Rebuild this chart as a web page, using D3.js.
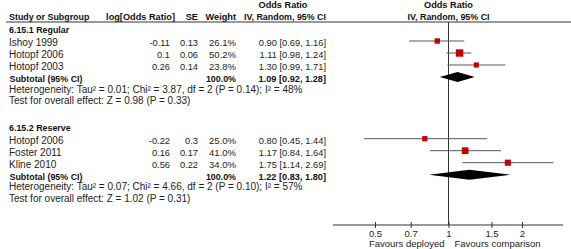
<!DOCTYPE html>
<meta charset="utf-8">
<script src="https://d3js.org/d3.v7.min.js"></script>
<style>
  body { margin: 0; background: #fff; }
</style>
<body>
<div id="viz"></div>
<script>

// data
const groupNames = ["6.15.1 Regular", "6.15.2 Reserve"];
const studies = ["Ishoy 1999", "Hotopf 2006", "Hotopf 2003", "Hotopf 2006", "Foster 2011", "Kline 2010"];
const studyGroup = [0, 0, 0, 1, 1, 1];
const logOR = [-0.11, 0.1, 0.26, -0.22, 0.16, 0.56];
const se = [0.13, 0.06, 0.14, 0.3, 0.17, 0.22];
const weight = [26.1, 50.2, 23.8, 25.0, 41.0, 34.0];
const orEst = [0.90, 1.11, 1.30, 0.80, 1.17, 1.75];
const orLow = [0.69, 0.98, 0.99, 0.45, 0.84, 1.14];
const orHigh = [1.16, 1.24, 1.71, 1.44, 1.64, 2.69];
const subEst = [1.09, 1.22];
const subLow = [0.92, 0.83];
const subHigh = [1.28, 1.80];
const heterogeneity = [
  "Heterogeneity: Tau² = 0.01; Chi² = 3.87, df = 2 (P = 0.14); I² = 48%",
  "Heterogeneity: Tau² = 0.07; Chi² = 4.66, df = 2 (P = 0.10); I² = 57%"
];
const overallTest = [
  "Test for overall effect: Z = 0.98 (P = 0.33)",
  "Test for overall effect: Z = 1.02 (P = 0.31)"
];
const tickValues = [0.5, 0.7, 1, 1.5, 2];
const favours = ["Favours deployed", "Favours comparison"];

const width = 571, height = 249;
const svg = d3.select("#viz").append("svg")
  .attr("width", width).attr("height", height);

const FONT = "'Liberation Sans', Arial, Helvetica, sans-serif";
const sz = { prose: 10, num: 9.3, head: 9.2, label: 8.9, axis: 9.5 };

// columns
const col = { name: 9, logor: 170, se: 198, weight: 236, ci: 326 };
const axisY = 225, headLine = 22;

const x = d3.scaleLog().domain([0.5, 2]).range([375, 522]);

// row layout
const rows = [];
let y = 27.8;
groupNames.forEach(function(g, gi) {
  rows.push({ type: "group", gi: gi, y: y });
  y += 13.2;
  studies.forEach(function(s, i) {
    if (studyGroup[i] !== gi) return;
    rows.push({ type: "study", i: i, y: y });
    y += 12;
  });
  rows.push({ type: "subtotal", gi: gi, y: y });
  y += 10.5;
  rows.push({ type: "het", gi: gi, y: y });
  y += 11.4;
  rows.push({ type: "test", gi: gi, y: y });
  y += 26.6;
});

function txt(s, tx, ty, anchor, size, bold) {
  return svg.append("text")
    .attr("x", tx).attr("y", ty)
    .attr("text-anchor", anchor || "start")
    .style("font-family", FONT)
    .style("font-size", size + "px")
    .style("font-weight", bold ? "bold" : "normal")
    .attr("fill", bold ? "#111" : "#222")
    .text(s);
}

// headers
txt("Odds Ratio", 283, 8, "middle", sz.head, true);
txt("Odds Ratio", x(1), 8, "middle", sz.head, true);
txt("Study or Subgroup", col.name, 19.5, "start", sz.label, true);
txt("log[Odds Ratio]", 175, 19.5, "end", sz.head, true);
txt("SE", col.se, 19.5, "end", sz.head, true);
txt("Weight", col.weight, 19.5, "end", sz.head, true);
txt("IV, Random, 95% CI", col.ci, 19.5, "end", sz.label, true);
txt("IV, Random, 95% CI", x(1), 19.5, "middle", sz.label, true);

svg.append("line").attr("x1", 6).attr("x2", width)
  .attr("y1", headLine).attr("y2", headLine)
  .attr("stroke", "#333").attr("stroke-width", 1);

// line of no effect
svg.append("line").attr("x1", x(1)).attr("x2", x(1))
  .attr("y1", headLine).attr("y2", axisY)
  .attr("stroke", "#333").attr("stroke-width", 1);

const f2 = d3.format(".2f");
const ciText = (e, l, h) => f2(e) + " [" + f2(l) + ", " + f2(h) + "]";

rows.forEach(function(r) {
  const b = r.y + 5;
  if (r.type === "group") {
    txt(groupNames[r.gi], col.name, b, "start", sz.label, true);
  } else if (r.type === "study") {
    const i = r.i;
    txt(studies[i], col.name, b, "start", sz.prose);
    txt(String(logOR[i]), col.logor, b, "end", sz.num);
    txt(String(se[i]), col.se, b, "end", sz.num);
    txt(weight[i].toFixed(1) + "%", col.weight, b, "end", 9.5);
    txt(ciText(orEst[i], orLow[i], orHigh[i]), col.ci, b, "end", sz.num);
    svg.append("line")
      .attr("x1", x(orLow[i])).attr("x2", x(orHigh[i]))
      .attr("y1", r.y).attr("y2", r.y)
      .attr("stroke", "#555").attr("stroke-width", 1);
    const s = Math.sqrt(weight[i]) * 1.05;
    svg.append("rect")
      .attr("x", x(orEst[i]) - s / 2).attr("y", r.y - s / 2)
      .attr("width", s).attr("height", s)
      .attr("fill", "#c40000");
  } else if (r.type === "subtotal") {
    const g = r.gi;
    txt("Subtotal (95% CI)", col.name + 0.5, b, "start", sz.label, true);
    txt("100.0%", col.weight, b, "end", sz.label, true);
    txt(ciText(subEst[g], subLow[g], subHigh[g]), col.ci, b, "end", sz.head, true);
    const h = 5;
    svg.append("path")
      .attr("d", "M" + x(subLow[g]) + "," + r.y +
                 "L" + x(subEst[g]) + "," + (r.y - h) +
                 "L" + x(subHigh[g]) + "," + r.y +
                 "L" + x(subEst[g]) + "," + (r.y + h) + "Z")
      .attr("fill", "#000");
  } else if (r.type === "het") {
    txt(heterogeneity[r.gi], col.name, b, "start", sz.prose);
  } else {
    txt(overallTest[r.gi], col.name, b, "start", sz.prose);
  }
});

// bottom axis
const axisG = svg.append("g")
  .attr("transform", "translate(0," + axisY + ")")
  .call(d3.axisBottom(x).tickValues(tickValues).tickSize(3)
    .tickFormat(d3.format("")));
axisG.select(".domain").remove();
axisG.selectAll(".tick line").attr("y1", -3).attr("stroke", "#333");
axisG.selectAll(".tick text")
  .attr("y", 11.5).attr("dy", 0)
  .style("font-family", FONT)
  .style("font-size", sz.axis + "px")
  .attr("fill", "#222");
axisG.append("line").attr("x1", 333).attr("x2", 563)
  .attr("y1", 0).attr("y2", 0).attr("stroke", "#333");

txt(favours[0], x(1) - 4, 247, "end", sz.axis);
txt(favours[1], x(1) + 6, 247, "start", sz.axis);

</script>
</body>
